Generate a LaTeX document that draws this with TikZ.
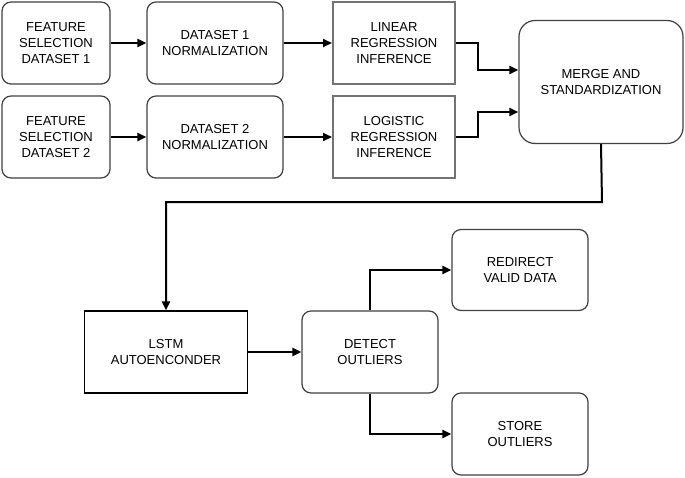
\documentclass[tikz,border=0pt]{standalone}
\usepackage{fontspec}
\setmainfont{Liberation Sans}
\usetikzlibrary{arrows.meta}
\begin{document}
\begin{tikzpicture}[x=1pt,y=-1pt,
  box/.style={draw=black!75,line width=1.2pt,rounded corners=9pt,align=center,font=\fontsize{13}{16}\selectfont,inner sep=0pt},
  sq/.style={draw=black!55,line width=2pt,align=center,font=\fontsize{13}{16}\selectfont,inner sep=0pt},
  pl/.style={draw=black,line width=1.2pt,align=center,font=\fontsize{13}{16}\selectfont,inner sep=0pt},
  ar/.style={-{Triangle[length=9pt,width=8pt]},line width=2pt}]
\useasboundingbox (0,0) rectangle (685,477);
\node[box,minimum width=108,minimum height=82] (f1) at (56,43) {FEATURE\\SELECTION\\DATASET 1};
\node[box,minimum width=136,minimum height=82] (d1) at (215,43) {DATASET 1\\NORMALIZATION};
\node[sq,minimum width=122,minimum height=82] (l1) at (394,43) {LINEAR\\REGRESSION\\INFERENCE};
\node[box,minimum width=108,minimum height=82] (f2) at (56,137) {FEATURE\\SELECTION\\DATASET 2};
\node[box,minimum width=136,minimum height=82] (d2) at (215,137) {DATASET 2\\NORMALIZATION};
\node[sq,minimum width=122,minimum height=82] (l2) at (394,137) {LOGISTIC\\REGRESSION\\INFERENCE};
\node[box,rounded corners=16pt,minimum width=164,minimum height=123] (m) at (601,82) {MERGE AND\\STANDARDIZATION};
\node[pl,minimum width=163,minimum height=82] (ls) at (166,352) {LSTM\\AUTOENCONDER};
\node[box,minimum width=136,minimum height=82] (de) at (370,352) {DETECT\\OUTLIERS};
\node[box,minimum width=136,minimum height=81] (re) at (520,270) {REDIRECT\\VALID DATA};
\node[box,minimum width=136,minimum height=82] (st) at (520,434) {STORE\\OUTLIERS};
\draw[ar] (f1) -- (d1);
\draw[ar] (d1) -- (l1);
\draw[ar] (f2) -- (d2);
\draw[ar] (d2) -- (l2);
\draw[ar] (l1.east) -- (478,43) |- (m.west |- 0,70);
\draw[ar] (l2.east) -- (478,137) |- (m.west |- 0,112);
\draw[ar] (m.south) -- (602,202) -| (ls.north);
\draw[ar] (ls) -- (de);
\draw[ar] (de.north) |- (re.west);
\draw[ar] (de.south) |- (st.west);
\end{tikzpicture}
\end{document}
